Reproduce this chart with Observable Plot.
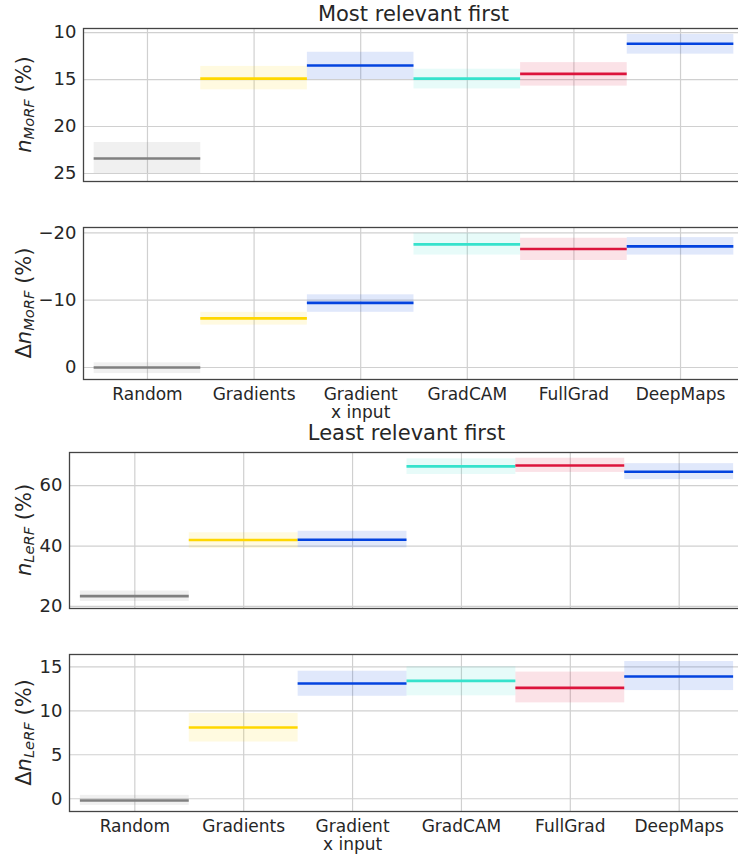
<!DOCTYPE html>
<html><head><meta charset="utf-8">
<script src="https://cdn.jsdelivr.net/npm/d3@7"></script>
<script src="https://cdn.jsdelivr.net/npm/@observablehq/plot@0.6"></script>
<style>
body{margin:0;background:#fff;}
#wrap{position:relative;width:738px;height:857px;overflow:hidden;font-family:"DejaVu Sans",sans-serif;color:#262626;background:#fff;}
.panel{position:absolute;left:0;max-width:none !important;}
.title{position:absolute;font-size:21px;line-height:24px;text-align:center;white-space:nowrap;}
</style></head><body><div id="wrap"></div>
<script>
// ---- data ----
const methods = ["Random", "Gradients", "Gradient\nx input", "GradCAM", "FullGrad", "DeepMaps"];
const lineColors = ["#808080", "#FFD700", "#0343DF", "#36E2CC", "#DC143C", "#0343DF"];

const morfMean = [23.4, 14.9, 13.5, 14.9, 14.4, 11.2];
const morfLo   = [21.7, 13.6, 12.1, 13.9, 13.2, 10.2];
const morfHi   = [25.0, 16.1, 15.0, 16.0, 15.7, 12.3];
const morfTicks = [10, 15, 20, 25];

const dMorfMean = [0.0, -7.3, -9.6, -18.3, -17.6, -18.0];
const dMorfLo   = [-0.7, -8.2, -10.8, -19.95, -19.2, -19.3];
const dMorfHi   = [0.9, -6.3, -8.2, -16.7, -15.9, -16.7];
const dMorfTicks = [-20, -10, 0];

const lerfMean = [23.4, 42.0, 42.1, 66.4, 66.7, 64.6];
const lerfLo   = [21.6, 39.2, 39.4, 63.7, 64.4, 62.0];
const lerfHi   = [25.1, 44.4, 44.9, 68.9, 69.1, 67.3];
const lerfTicks = [20, 40, 60];

const dLerfMean = [-0.2, 8.1, 13.1, 13.4, 12.6, 13.9];
const dLerfLo   = [-0.76, 6.45, 11.65, 11.7, 10.9, 12.3];
const dLerfHi   = [0.38, 9.7, 14.5, 15.0, 14.4, 15.6];
const dLerfTicks = [0, 5, 10, 15];

const titles = ["Most relevant first", "Least relevant first"];

// ---- drawing ----
const wrap = document.getElementById("wrap");
const fmt = d => d < 0 ? "\u2212" + Math.abs(d) : String(d);
const idx = methods.map((_, i) => i);

function panel(o) {
  const data = methods.map((m, i) => ({i, color: lineColors[i], mean: o.mean[i], lo: o.lo[i], hi: o.hi[i]}));
  const marks = [
    Plot.gridX(idx, {stroke: "#d0d0d0", strokeOpacity: 1, strokeWidth: 1.2}),
    Plot.gridY(o.ticks, {stroke: "#d0d0d0", strokeOpacity: 1, strokeWidth: 1.2}),
    Plot.rect(data, {x1: d => d.i - 0.5, x2: d => d.i + 0.5, y1: "lo", y2: "hi", fill: "color", fillOpacity: 0.12}),
    Plot.ruleY(data, {x1: d => d.i - 0.5, x2: d => d.i + 0.5, y: "mean", stroke: "color", strokeWidth: 2.6}),
    Plot.axisY(o.ticks, {tickSize: 0, tickPadding: 7, fontSize: 18, tickFormat: fmt, fill: "#262626"}),
    Plot.frame({stroke: "#444", strokeWidth: 1.3})
  ];
  if (o.showX) marks.push(Plot.axisX(idx, {tickSize: 0, tickPadding: 7, fontSize: 17, lineHeight: 1.1, tickFormat: i => methods[i], fill: "#262626"}));
  const svg = Plot.plot({
    width: 744,
    height: o.height,
    marginTop: o.marginTop,
    marginBottom: o.marginBottom,
    marginLeft: o.marginLeft,
    marginRight: 0,
    x: {domain: [-0.6, 5.6], axis: o.showX ? undefined : null},
    y: {domain: o.domain},
    color: {type: "identity"},
    style: {fontFamily: "DejaVu Sans, sans-serif", color: "#262626", background: "transparent", overflow: "visible"},
    marks
  });
  const cy = (o.marginTop + o.height - o.marginBottom) / 2;
  const t = d3.select(svg).append("text")
    .attr("transform", `translate(31,${cy}) rotate(-90)`)
    .attr("text-anchor", "middle").attr("font-size", 21).attr("fill", "#262626")
    .attr("font-family", "DejaVu Sans, sans-serif").style("white-space", "pre");
  if (o.delta) t.append("tspan").text("\u0394");
  t.append("tspan").attr("font-style", "italic").text("n");
  t.append("tspan").attr("font-style", "italic").attr("font-size", 14.7).attr("dy", 3).text(o.sub);
  t.append("tspan").attr("dy", -3).text(" (%)");
  svg.classList.add("panel");
  svg.style.top = o.top + "px";
  svg.style.maxWidth = "none";
  svg.style.width = "744px";
  svg.style.height = o.height + "px";
  wrap.appendChild(svg);
}

function title(text, cx, top) {
  const d = document.createElement("div");
  d.className = "title";
  d.textContent = text;
  d.style.left = (cx - 200) + "px";
  d.style.width = "400px";
  d.style.top = top + "px";
  wrap.appendChild(d);
}

panel({top: 20, height: 170, marginTop: 8, marginBottom: 9, marginLeft: 83, domain: [25.85, 9.57], ticks: morfTicks,
  mean: morfMean, lo: morfLo, hi: morfHi, showX: false, delta: false, sub: "MoRF"});
panel({top: 215, height: 209, marginTop: 12, marginBottom: 45, marginLeft: 83, domain: [1.78, -20.8], ticks: dMorfTicks,
  mean: dMorfMean, lo: dMorfLo, hi: dMorfHi, showX: true, delta: true, sub: "MoRF"});
panel({top: 445, height: 173, marginTop: 7, marginBottom: 10, marginLeft: 69, domain: [19.3, 71.0], ticks: lerfTicks,
  mean: lerfMean, lo: lerfLo, hi: lerfHi, showX: false, delta: false, sub: "LeRF"});
panel({top: 645, height: 212, marginTop: 9, marginBottom: 46, marginLeft: 69, domain: [-1.45, 16.4], ticks: dLerfTicks,
  mean: dLerfMean, lo: dLerfLo, hi: dLerfHi, showX: true, delta: true, sub: "LeRF"});

title(titles[0], 413.5, 2);
title(titles[1], 406.5, 421);
</script>
</body></html>
